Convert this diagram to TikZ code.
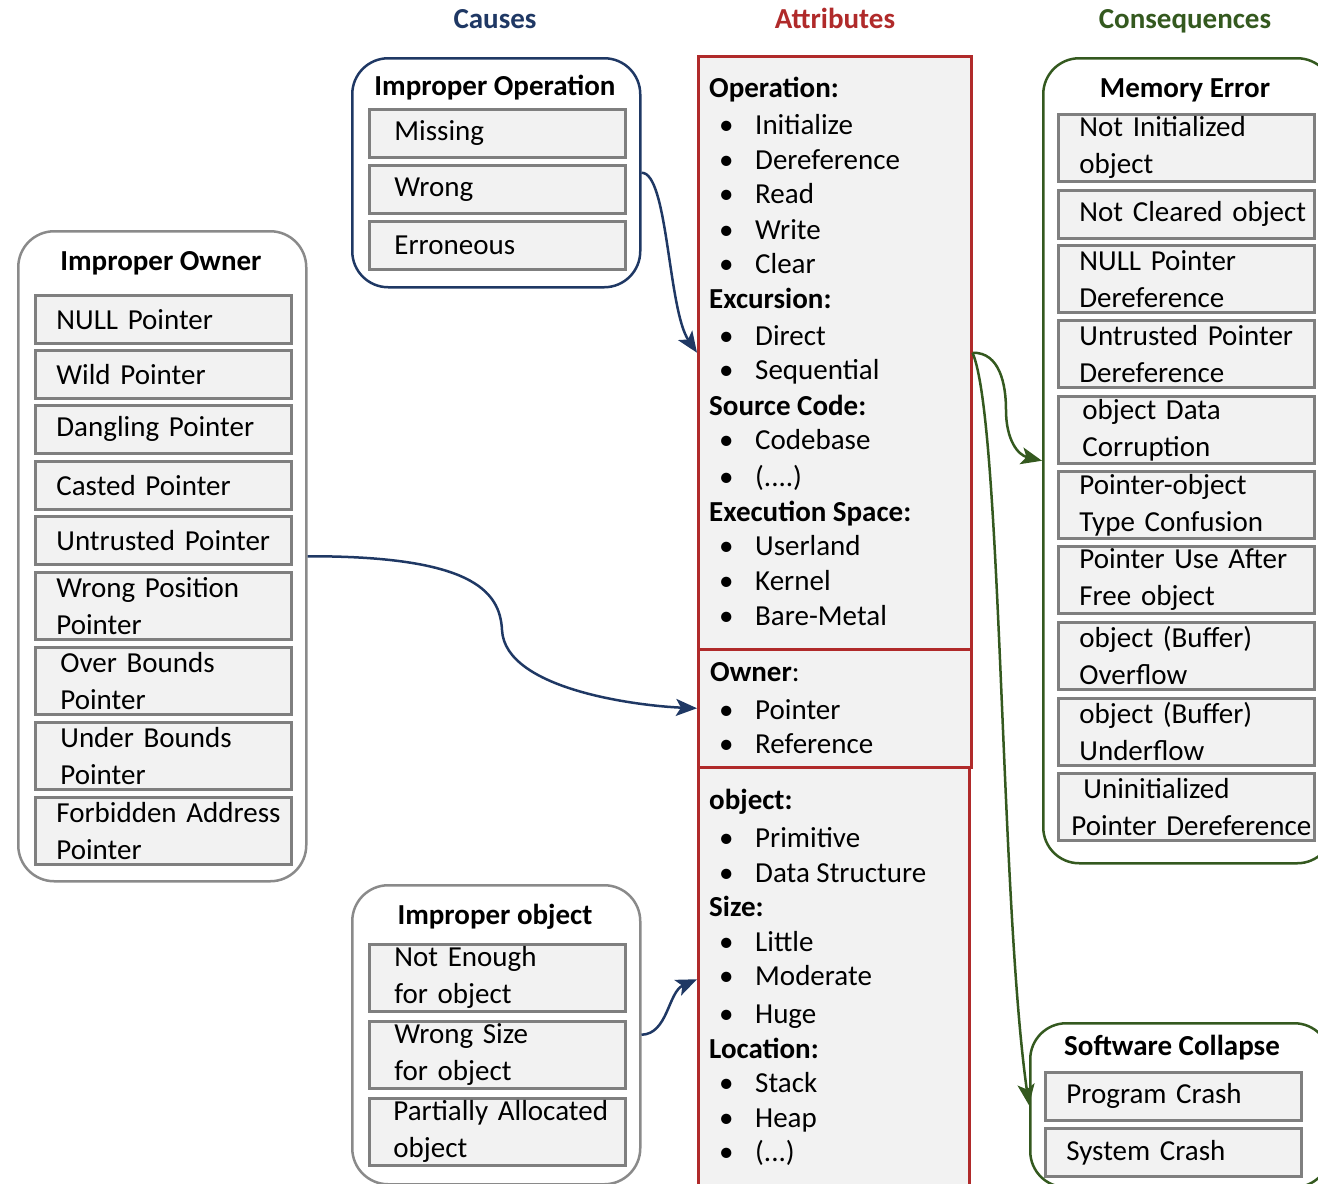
\documentclass[tikz,border=0pt]{standalone}
\usepackage{fontspec}
\setmainfont{Carlito}
\usetikzlibrary{arrows.meta}

\definecolor{causeblue}{HTML}{1F3864}
\definecolor{attrred}{HTML}{B02A2A}
\definecolor{conggreen}{HTML}{34591F}
\definecolor{boxfill}{HTML}{F2F2F2}
\definecolor{boxline}{HTML}{7F7F7F}
\definecolor{ownerline}{HTML}{8A8A8A}

\begin{document}
\hyphenpenalty=10000
\exhyphenpenalty=10000
\lefthyphenmin=100
\begin{tikzpicture}[x=1pt,y=-1pt,
  every node/.style={font=\fontsize{29}{37}\selectfont},
  colhead/.style={font=\fontsize{29}{36}\selectfont\bfseries, inner sep=0pt,
    text height=20pt, text depth=6pt},
  title/.style={font=\fontsize{29}{36}\selectfont\bfseries, inner sep=0pt,
    text height=20pt, text depth=6pt},
  container/.style={draw, line width=2.5pt, rounded corners=36pt, inner sep=0pt, anchor=north west},
  itembox/.style={draw=boxline, fill=boxfill, line width=2.8pt, minimum width=256pt,
    minimum height=48pt, text width=214pt, inner xsep=21pt, inner ysep=0pt,
    align=left, anchor=north west},
  attrpanel/.style={draw=attrred, fill=boxfill, line width=2.5pt, inner sep=0pt, anchor=north west},
  hdr/.style={anchor=west, font=\fontsize{29}{36}\selectfont\bfseries, inner sep=0pt,
    text height=20pt, text depth=6pt},
  bulletitem/.style={anchor=west, inner sep=0pt, text height=20pt, text depth=6pt},
  link/.style={line width=2.5pt, -{Stealth[length=21pt,width=17pt,inset=5pt]}},
]
\useasboundingbox (0,0) rectangle (1318,1184);
\clip (0,0) rectangle (1318,1184);

% column headings
\node[colhead, text=causeblue]  (hcauses) at (495,21)  {Causes};
\node[colhead, text=attrred]    (hattr)   at (835,21)  {Attributes};
\node[colhead, text=conggreen]  (hcons)   at (1185,21) {Consequences};

% ---- causes ----
\node[container, draw=causeblue, minimum width=288pt, minimum height=229pt] (iop) at (351,57) {};
\node[title] (iopt) at (495,88) {Improper Operation};
\node[itembox] (op1) at (368,108) {\hspace*{4pt}Missing};
\node[itembox] (op2) at (368,164) {\hspace*{4pt}Wrong};
\node[itembox] (op3) at (368,220) {\hspace*{4pt}Erroneous};

\node[container, draw=ownerline, minimum width=288pt, minimum height=650pt] (iown) at (17,230) {};
\node[title] (iownt) at (161,263) {Improper Owner};
\node[itembox] (ow1) at (34,294) {NULL Pointer};
\node[itembox] (ow2) at (34,349) {Wild Pointer};
\node[itembox] (ow3) at (34,404) {Dangling Pointer};
\node[itembox] (ow4) at (34,460) {Casted Pointer};
\node[itembox] (ow5) at (34,515) {Untrusted Pointer};
\node[itembox, minimum height=67pt] (ow6) at (34,571) {Wrong Position\\Pointer};
\node[itembox, minimum height=67pt] (ow7) at (34,646) {\hspace*{4pt}Over Bounds\\\hspace*{4pt}Pointer};
\node[itembox, minimum height=67pt] (ow8) at (34,721) {\hspace*{4pt}Under Bounds\\\hspace*{4pt}Pointer};
\node[itembox, minimum height=67pt] (ow9) at (34,796) {Forbidden~Address\\Pointer};

\node[container, draw=ownerline, minimum width=288pt, minimum height=299pt] (iobj) at (351,884) {};
\node[title] (iobjt) at (495,917) {Improper object};
\node[itembox, minimum height=67pt] (ob1) at (368,943)  {\hspace*{4pt}Not Enough\\\hspace*{4pt}for object};
\node[itembox, minimum height=67pt] (ob2) at (368,1020) {\hspace*{4pt}Wrong Size\\\hspace*{4pt}for object};
\node[itembox, minimum height=67pt] (ob3) at (368,1097) {\hspace*{3pt}Partially~Allocated\\\hspace*{3pt}object};

% ---- attributes ----
\node[attrpanel, minimum width=273pt, minimum height=593pt] (attr1) at (697,55) {};
\node[attrpanel, minimum width=273pt, minimum height=118pt] (attr2) at (697,648) {};
\node[attrpanel, minimum width=271pt, minimum height=424pt] (attr3) at (697,766) {};

\foreach \y/\t [count=\n] in {90/Operation:, 301/Excursion:, 408/Source Code:,
    514/Execution Space:, 802/object:, 909/Size:, 1051/Location:}
  \node[hdr] (ah\n) at (709,\y) {\t};
\node[hdr, font=\fontsize{29}{36}\selectfont] (ahown) at (710,674) {\textbf{Owner}:};

\foreach \y/\t [count=\n] in {127/Initialize, 162/Dereference, 196/Read, 232/Write,
    266/Clear, 338/Direct, 372/Sequential, 442/Codebase, 548/Userland,
    583/Kernel, 618/Bare-Metal, 712/Pointer, 746/Reference, 840/Primitive,
    875/Data Structure, 944/Little, 978/Moderate, 1016/Huge, 1085/Stack,
    1120/Heap}
  \node[bulletitem] (ab\n) at (719,\y) {\makebox[36pt][l]{\textbullet}\t};
\node[bulletitem] (abetc1) at (719,479) {\makebox[36pt][l]{\textbullet}(....)};
\node[bulletitem] (abetc2) at (719,1154) {\makebox[36pt][l]{\textbullet}(...)};

% ---- consequences ----
\node[container, draw=conggreen, minimum width=290pt, minimum height=805pt] (mem) at (1042,57) {};
\node[title] (memt) at (1185,90) {Memory Error};
\node[itembox, minimum width=255pt, minimum height=67pt] (me1)  at (1057,113) {Not Initialized\\object};
\node[itembox, minimum width=255pt] (me2)  at (1057,189) {Not~Cleared~object};
\node[itembox, minimum width=255pt, minimum height=67pt] (me3)  at (1057,244) {NULL Pointer\\Dereference};
\node[itembox, minimum width=255pt, minimum height=67pt] (me4)  at (1057,319) {Untrusted~Pointer\\Dereference};
\node[itembox, minimum width=255pt, minimum height=67pt] (me5)  at (1057,395) {\hspace*{3pt}object Data\\\hspace*{3pt}Corruption};
\node[itembox, minimum width=255pt, minimum height=67pt] (me6)  at (1057,470) {Pointer-object\\Type Confusion};
\node[itembox, minimum width=255pt, minimum height=67pt] (me7)  at (1057,545) {Pointer~Use~After\\Free object};
\node[itembox, minimum width=255pt, minimum height=67pt] (me8)  at (1057,621) {object (Buffer)\\Overflow};
\node[itembox, minimum width=255pt, minimum height=67pt] (me9)  at (1057,697) {object (Buffer)\\Underflow};
\node[itembox, minimum width=255pt, minimum height=67pt] (me10) at (1057,772) {\hspace*{4pt}Uninitialized\\\hspace*{-8pt}Pointer~Dereference};

\node[container, draw=conggreen, minimum width=300pt, minimum height=164pt] (sc) at (1029,1022) {};
\node[title] (sct) at (1172,1048) {Software Collapse};
\node[itembox] (sc1) at (1044,1071) {Program Crash};
\node[itembox] (sc2) at (1044,1127) {System Crash};

% ---- connectors ----
\draw[link, causeblue] (iop.east) .. controls (668,172) and (668,310) .. (attr1.west);
\draw[link, causeblue] (iown.east) .. controls (470,556) and (500,590) .. (502,630)
  .. controls (505,690) and (640,706) .. (attr2.west);
\draw[link, causeblue] (iobj.east) .. controls (668,1034) and (668,992) .. (attr3.west);

\draw[link, conggreen] (attr1.east) .. controls (1000,352) and (1006,385) .. (1006,410)
  .. controls (1006,440) and (1018,455) .. (mem.west);
\draw[link, conggreen] (attr1.east) .. controls (1002,420) and (1000,900) .. (sc.west);
\end{tikzpicture}
\end{document}
